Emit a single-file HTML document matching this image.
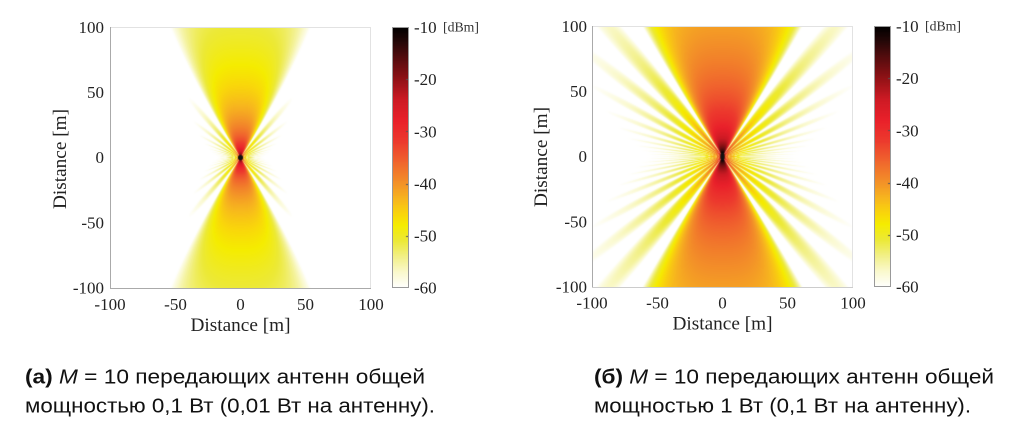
<!DOCTYPE html>
<html>
<head>
<meta charset="utf-8">
<style>
  html,body{margin:0;padding:0;background:#fff;}
  #wrap{position:relative;width:1024px;height:437px;overflow:hidden;background:#fff;}
  canvas{position:absolute;display:block;}
  svg{position:absolute;left:0;top:0;}
  .tk{font-family:"Liberation Serif",serif;font-size:17px;fill:#222;}
  .lb{font-family:"Liberation Serif",serif;font-size:19px;fill:#222;}
  .db{font-family:"Liberation Serif",serif;font-size:14px;fill:#333;}
  .cap{font-family:"Liberation Sans","DejaVu Sans",sans-serif;font-size:20px;fill:#111;}
</style>
</head>
<body>
<div id="wrap">
  <canvas id="p1" width="261" height="261" style="left:110px;top:27px;"></canvas>
  <canvas id="cb1" width="17" height="261" style="left:392px;top:27px;"></canvas>
  <canvas id="p2" width="261" height="261" style="left:592px;top:26px;"></canvas>
  <canvas id="cb2" width="17" height="261" style="left:874px;top:26px;"></canvas>

  <svg width="1024" height="437" viewBox="0 0 1024 437">
    <!-- Left plot axes -->
    <line x1="110" y1="27.5" x2="371" y2="27.5" stroke="#e2e2e2" stroke-width="1"/>
    <line x1="370.5" y1="27" x2="370.5" y2="288" stroke="#e2e2e2" stroke-width="1"/>
    <line x1="110.5" y1="27" x2="110.5" y2="289" stroke="#aaa" stroke-width="1"/>
    <line x1="110" y1="288.5" x2="371" y2="288.5" stroke="#aaa" stroke-width="1"/>
    <rect x="392.5" y="27.5" width="16" height="260" fill="none" stroke="#999" stroke-width="1"/>

    <g class="tk" text-anchor="end">
      <text x="104" y="33">100</text>
      <text x="104" y="98">50</text>
      <text x="104" y="163">0</text>
      <text x="104" y="228.5">-50</text>
      <text x="104" y="293.5">-100</text>
    </g>
    <g class="tk" text-anchor="middle">
      <text x="110" y="310">-100</text>
      <text x="175.5" y="310">-50</text>
      <text x="240.5" y="310">0</text>
      <text x="305.5" y="310">50</text>
      <text x="371" y="310">100</text>
    </g>
    <text class="lb" x="240.5" y="331" text-anchor="middle" textLength="100" lengthAdjust="spacingAndGlyphs">Distance [m]</text>
    <text class="lb" transform="translate(66,159) rotate(-90)" text-anchor="middle" textLength="100" lengthAdjust="spacingAndGlyphs">Distance [m]</text>
    <g class="tk">
      <text x="414" y="33">-10</text>
      <text x="414" y="85">-20</text>
      <text x="414" y="137.5">-30</text>
      <text x="414" y="189.5">-40</text>
      <text x="414" y="241.5">-50</text>
      <text x="414" y="293.5">-60</text>
    </g>
    <text class="db" x="443" y="31.5" textLength="36" lengthAdjust="spacingAndGlyphs">[dBm]</text>

    <!-- Right plot axes -->
    <line x1="592" y1="26.5" x2="853" y2="26.5" stroke="#e2e2e2" stroke-width="1"/>
    <line x1="852.5" y1="26" x2="852.5" y2="287" stroke="#e2e2e2" stroke-width="1"/>
    <line x1="592.5" y1="26" x2="592.5" y2="288" stroke="#aaa" stroke-width="1"/>
    <line x1="592" y1="287.5" x2="853" y2="287.5" stroke="#ccc" stroke-width="1"/>
    <rect x="874.5" y="26.5" width="16" height="260" fill="none" stroke="#999" stroke-width="1"/>

    <g class="tk" text-anchor="end">
      <text x="587" y="32">100</text>
      <text x="587" y="97">50</text>
      <text x="587" y="162">0</text>
      <text x="587" y="227.5">-50</text>
      <text x="587" y="292.5">-100</text>
    </g>
    <g class="tk" text-anchor="middle">
      <text x="592" y="308.5">-100</text>
      <text x="657.5" y="308.5">-50</text>
      <text x="722.5" y="308.5">0</text>
      <text x="787.5" y="308.5">50</text>
      <text x="853" y="308.5">100</text>
    </g>
    <text class="lb" x="722.5" y="329.5" text-anchor="middle" textLength="100" lengthAdjust="spacingAndGlyphs">Distance [m]</text>
    <text class="lb" transform="translate(547,157) rotate(-90)" text-anchor="middle" textLength="100" lengthAdjust="spacingAndGlyphs">Distance [m]</text>
    <g class="tk">
      <text x="896" y="32">-10</text>
      <text x="896" y="84">-20</text>
      <text x="896" y="136.5">-30</text>
      <text x="896" y="188.5">-40</text>
      <text x="896" y="240.5">-50</text>
      <text x="896" y="292.5">-60</text>
    </g>
    <text class="db" x="925" y="30.5" textLength="36" lengthAdjust="spacingAndGlyphs">[dBm]</text>

    <!-- Captions -->
    <text class="cap" x="25" y="383.5" textLength="400" lengthAdjust="spacingAndGlyphs"><tspan font-weight="bold">(а)</tspan> <tspan font-style="italic">M</tspan> = 10 передающих антенн общей</text>
    <text class="cap" x="25" y="412.5" textLength="410" lengthAdjust="spacingAndGlyphs">мощностью 0,1 Вт (0,01 Вт на антенну).</text>
    <text class="cap" x="594" y="383.5" textLength="400" lengthAdjust="spacingAndGlyphs"><tspan font-weight="bold">(б)</tspan> <tspan font-style="italic">M</tspan> = 10 передающих антенн общей</text>
    <text class="cap" x="594" y="412.5" textLength="377" lengthAdjust="spacingAndGlyphs">мощностью 1 Вт (0,1 Вт на антенну).</text>
  </svg>
</div>

<script>
(function(){
  var stops = [
    [-60,255,255,255],
    [-57,250,249,205],
    [-54,242,240,135],
    [-51,236,233,55],
    [-48,245,236,0],
    [-46,249,216,10],
    [-43,247,182,30],
    [-40,243,146,40],
    [-36,240,102,45],
    [-32,236,58,45],
    [-28,233,32,42],
    [-24,205,26,36],
    [-20,145,18,22],
    [-16,85,12,14],
    [-13,38,8,8],
    [-10,0,0,0]
  ];
  function cmap(v){
    if (v <= -60) return [255,255,255];
    if (v >= -10) return [0,0,0];
    for (var i=0;i<stops.length-1;i++){
      var a=stops[i], b=stops[i+1];
      if (v>=a[0] && v<=b[0]){
        var t=(v-a[0])/(b[0]-a[0]);
        return [a[1]+(b[1]-a[1])*t, a[2]+(b[2]-a[2])*t, a[3]+(b[3]-a[3])*t];
      }
    }
    return [0,0,0];
  }
  var ALPHA = 7.52, RR = 1.25, LNR = Math.log(RR);
  var ESIDE = ALPHA*(Math.pow(RR,9.5)-1);
  var PSIM = 33;
  function power(P0, x, y){
    var r = Math.sqrt(x*x+y*y);
    if (r < 0.25) r = 0.25;
    var psi = Math.atan2(Math.abs(x), Math.abs(y))*180/Math.PI;
    var e = 90 - psi;
    var g;
    if (psi < PSIM){
      var t = psi/PSIM;
      var c = Math.cos(Math.PI/2*t*t);
      g = 10*Math.log10(c*c+1e-9);
    } else if (e < ESIDE){
      var n = Math.log(e/ALPHA + 1)/LNR;
      var c2 = Math.cos(Math.PI*n);
      var env = -24 + 11*Math.min(e,50)/50;
      g = env + 10*Math.log10(c2*c2+1e-9);
    } else {
      g = -90;
    }
    return P0 - 20*Math.log10(r) + g;
  }
  function drawPlot(id, P0, dotR){
    var cv = document.getElementById(id);
    var ctx = cv.getContext('2d');
    var W=cv.width, H=cv.height;
    var img = ctx.createImageData(W,H);
    var S=3;
    for (var j=0;j<H;j++){
      for (var i=0;i<W;i++){
        var R=0,G=0,Bc=0;
        for (var sy=0;sy<S;sy++){
          for (var sx=0;sx<S;sx++){
            var x = (i+(sx+0.5)/S)/W*200-100;
            var y = 100-(j+(sy+0.5)/S)/H*200;
            var col = cmap(power(P0,x,y));
            R+=col[0];G+=col[1];Bc+=col[2];
          }
        }
        var k=(j*W+i)*4;
        img.data[k]=R/(S*S); img.data[k+1]=G/(S*S); img.data[k+2]=Bc/(S*S); img.data[k+3]=255;
      }
    }
    ctx.putImageData(img,0,0);
    ctx.fillStyle='#111';
    ctx.beginPath();
    ctx.ellipse(W/2, H/2, dotR[0], dotR[1], 0, 0, Math.PI*2);
    ctx.fill();
  }
  function drawBar(id){
    var cv = document.getElementById(id);
    var ctx = cv.getContext('2d');
    var W=cv.width, H=cv.height;
    for (var j=0;j<H;j++){
      var v = -10 - (j+0.5)/H*50;
      var c = cmap(v);
      ctx.fillStyle = 'rgb('+Math.round(c[0])+','+Math.round(c[1])+','+Math.round(c[2])+')';
      ctx.fillRect(0,j,W,1);
    }
    ctx.fillStyle='#555';
    for (var k=1;k<5;k++){
      var yy = Math.round(k*H/5);
      ctx.fillRect(W-3,yy,3,1);
    }
  }
  drawPlot('p1', -11, [2.6,2.6]);
  drawPlot('p2', -1, [2.2,4]);
  drawBar('cb1');
  drawBar('cb2');
})();
</script>
</body>
</html>
